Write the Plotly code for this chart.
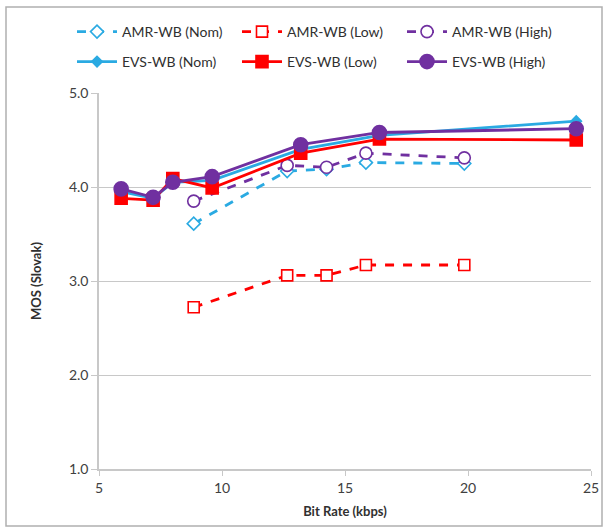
import plotly.graph_objects as go

amr_rates = [8.85, 12.65, 14.25, 15.85, 19.85]
amr_nom = [3.61, 4.17, 4.19, 4.26, 4.25]
amr_low = [2.72, 3.06, 3.06, 3.17, 3.17]
amr_high = [3.85, 4.23, 4.21, 4.36, 4.31]

evs_rates = [5.9, 7.2, 8.0, 9.6, 13.2, 16.4, 24.4]
evs_nom = [3.95, 3.88, 4.05, 4.07, 4.40, 4.55, 4.70]
evs_low = [3.88, 3.86, 4.09, 3.99, 4.36, 4.51, 4.50]
evs_high = [3.98, 3.89, 4.05, 4.11, 4.45, 4.58, 4.62]

CYAN = "#2AAAE2"
RED = "#FF0000"
PURPLE = "#7030A0"

fig = go.Figure()

def add(name, x, y, color, symbol, size, dash, open_marker, legend):
    fig.add_trace(go.Scatter(
        x=x, y=y, name=name, mode="lines+markers", legend=legend,
        line=dict(color=color, width=2.8, dash=dash),
        marker=dict(symbol=symbol, size=size,
                    color="white" if open_marker else color,
                    line=dict(color=color, width=1.6)),
    ))

add("AMR-WB (Nom)", amr_rates, amr_nom, CYAN, "diamond", 10, "dash", True, "legend")
add("AMR-WB (Low)", amr_rates, amr_low, RED, "square", 11, "dash", True, "legend")
add("AMR-WB (High)", amr_rates, amr_high, PURPLE, "circle", 12, "dash", True, "legend")
add("EVS-WB (Nom)", evs_rates, evs_nom, CYAN, "diamond", 8, "solid", False, "legend2")
add("EVS-WB (Low)", evs_rates, evs_low, RED, "square", 12, "solid", False, "legend2")
add("EVS-WB (High)", evs_rates, evs_high, PURPLE, "circle", 14, "solid", False, "legend2")

W, H = 603, 527
L, R, T, B = 99, 12, 93, 58
pw, ph = W - L - R, H - T - B

def px(x):
    return (x - L) / pw

def py(y):
    return (H - B - y) / ph

leg_common = dict(orientation="h", xanchor="left", yanchor="middle",
                  entrywidth=110, font=dict(size=14, color="#303030"),
                  bgcolor="rgba(0,0,0,0)", itemwidth=40)

fig.update_layout(
    width=W, height=H,
    margin=dict(l=L, r=R, t=T, b=B, autoexpand=False),
    paper_bgcolor="white", plot_bgcolor="white",
    font=dict(family="Lato, Open Sans, sans-serif", size=14, color="#404040"),
    showlegend=True,
    legend=dict(x=px(72), y=py(32), **leg_common),
    legend2=dict(x=px(72), y=py(62), **leg_common),
    xaxis=dict(range=[5, 25], tickvals=[5, 10, 15, 20, 25], showgrid=False,
               showline=True, linecolor="#C8C8C8", linewidth=1.5,
               ticks="outside", tickcolor="#C8C8C8", ticklen=5,
               zeroline=False, tickfont=dict(size=14, color="#404040"),
               title=dict(text="<b>Bit Rate (kbps)</b>", font=dict(size=13, color="#303030"), standoff=12)),
    yaxis=dict(range=[1, 5], tickvals=[1, 2, 3, 4, 5], tickformat=".1f",
               showgrid=True, gridcolor="#C8C8C8", gridwidth=1.3,
               showline=True, linecolor="#C8C8C8", linewidth=1.5,
               ticks="outside", tickcolor="#C8C8C8", ticklen=6,
               zeroline=False, tickfont=dict(size=14, color="#404040"),
               title=dict(text="<b>MOS (Slovak)</b>", font=dict(size=13, color="#303030"), standoff=24)),
    shapes=[dict(type="rect", xref="paper", yref="paper",
                 x0=px(6), x1=px(602), y0=py(526), y1=py(7),
                 line=dict(color="#B0B0B0", width=1.5), layer="below")],
)

fig.write_html("out.html", config={"displayModeBar": False},
               post_script="document.body.style.margin='0';document.body.style.overflow='hidden';")
